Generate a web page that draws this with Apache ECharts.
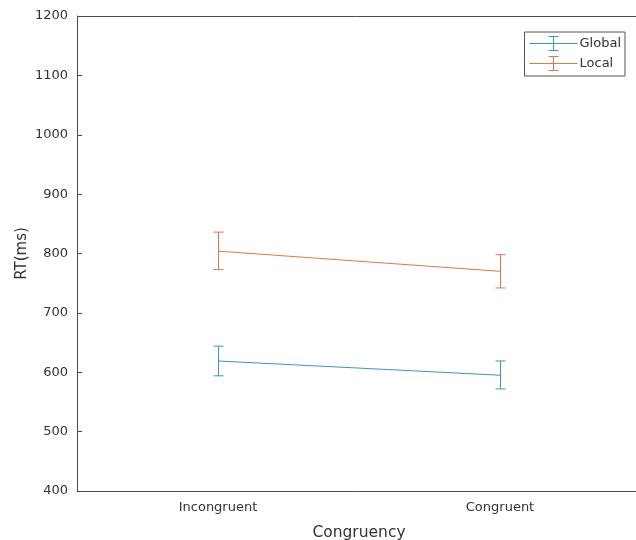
<!DOCTYPE html>
<html><head><meta charset="utf-8">
<script src="https://cdn.jsdelivr.net/npm/echarts@6/dist/echarts.min.js"></script>
<style>html,body{margin:0;padding:0;background:#fff}#c{width:636px;height:540px}</style>
</head><body><div id="c"></div>
<script>
var categories = ['Incongruent', 'Congruent'];
var globalMean = [619, 595];
var globalLow  = [594, 572];
var globalHigh = [644, 619];
var localMean  = [804, 770];
var localLow   = [773, 742];
var localHigh  = [836, 798];
var yTicks = [400, 500, 600, 700, 800, 900, 1000, 1100, 1200];

var blue = '#3d93d2', orange = '#e2764a';
var font = 'DejaVu Sans';
var axisColor = '#4a4a4a', textColor = '#333333';

function errSeries(name, low, high, color) {
  return {
    type: 'custom', name: name, z: 3,
    data: categories.map(function (c, i) { return [i, low[i], high[i]]; }),
    renderItem: function (params, api) {
      var lo = api.coord([api.value(0), api.value(1)]);
      var hi = api.coord([api.value(0), api.value(2)]);
      var x = Math.round(lo[0]) + 0.5, w = 5;
      var st = { stroke: color, lineWidth: 1 };
      return { type: 'group', children: [
        { type: 'line', shape: { x1: x, y1: hi[1], x2: x, y2: lo[1] }, style: st },
        { type: 'line', shape: { x1: x - w, y1: hi[1], x2: x + w, y2: hi[1] }, style: st },
        { type: 'line', shape: { x1: x - w, y1: lo[1], x2: x + w, y2: lo[1] }, style: st }
      ]};
    }
  };
}
var legendIcon = 'path://M0,7 L48,7 L48,8 L0,8 Z M23.5,0 L24.5,0 L24.5,15 L23.5,15 Z M19,0 L29,0 L29,1 L19,1 Z M19,14 L29,14 L29,15 L19,15 Z';

var chart = echarts.init(document.getElementById('c'), null, { renderer: 'canvas' });
chart.setOption({
  animation: false,
  textStyle: { fontFamily: font },
  grid: { left: 77, right: -5, top: 16, bottom: 49, show: false, containLabel: false, outerBoundsMode: 'none' },
  legend: {
    right: 11, top: 32, orient: 'vertical',
    backgroundColor: '#fff', borderColor: '#555', borderWidth: 1,
    padding: [4, 4, 5, 5], itemGap: 5, itemWidth: 48, itemHeight: 15,
    textStyle: { fontFamily: font, fontSize: 13, color: textColor, padding: [0, 0, 0, -3] },
    data: [
      { name: 'Global', icon: legendIcon, itemStyle: { color: blue } },
      { name: 'Local', icon: legendIcon, itemStyle: { color: orange } }
    ]
  },
  xAxis: {
    type: 'category', data: categories, boundaryGap: true,
    name: 'Congruency', nameLocation: 'middle', nameGap: 34, nameMoveOverlap: false,
    nameTextStyle: { fontFamily: font, fontSize: 15.5, color: textColor },
    axisLine: { lineStyle: { color: axisColor, width: 1 } },
    axisTick: { inside: true, alignWithLabel: true, length: 5, lineStyle: { color: axisColor } },
    axisLabel: { fontFamily: font, fontSize: 13, color: textColor, margin: 10 },
    splitLine: { show: false }
  },
  yAxis: {
    type: 'value', min: 400, max: 1200, interval: 100,
    name: 'RT(ms)', nameLocation: 'middle', nameGap: 47, nameMoveOverlap: false,
    nameTextStyle: { fontFamily: font, fontSize: 15, color: textColor },
    axisLine: { show: true, lineStyle: { color: axisColor, width: 1 } },
    axisTick: { show: true, inside: true, length: 5, lineStyle: { color: axisColor } },
    axisLabel: { fontFamily: font, fontSize: 13, color: textColor, margin: 9,
      formatter: function (v) { return yTicks.indexOf(v) >= 0 ? String(v) : ''; } },
    splitLine: { show: false }
  },
  graphic: [{
    type: 'line', shape: { x1: 77, y1: 16.5, x2: 636, y2: 16.5 },
    style: { stroke: axisColor, lineWidth: 1 }, z: 10
  }],
  series: [
    { type: 'line', name: 'Global', data: globalMean, symbol: 'none',
      lineStyle: { color: blue, width: 1 }, itemStyle: { color: blue }, z: 4 },
    { type: 'line', name: 'Local', data: localMean, symbol: 'none',
      lineStyle: { color: orange, width: 1 }, itemStyle: { color: orange }, z: 4 },
    errSeries('gErr', globalLow, globalHigh, blue),
    errSeries('lErr', localLow, localHigh, orange)
  ]
});
</script></body></html>
